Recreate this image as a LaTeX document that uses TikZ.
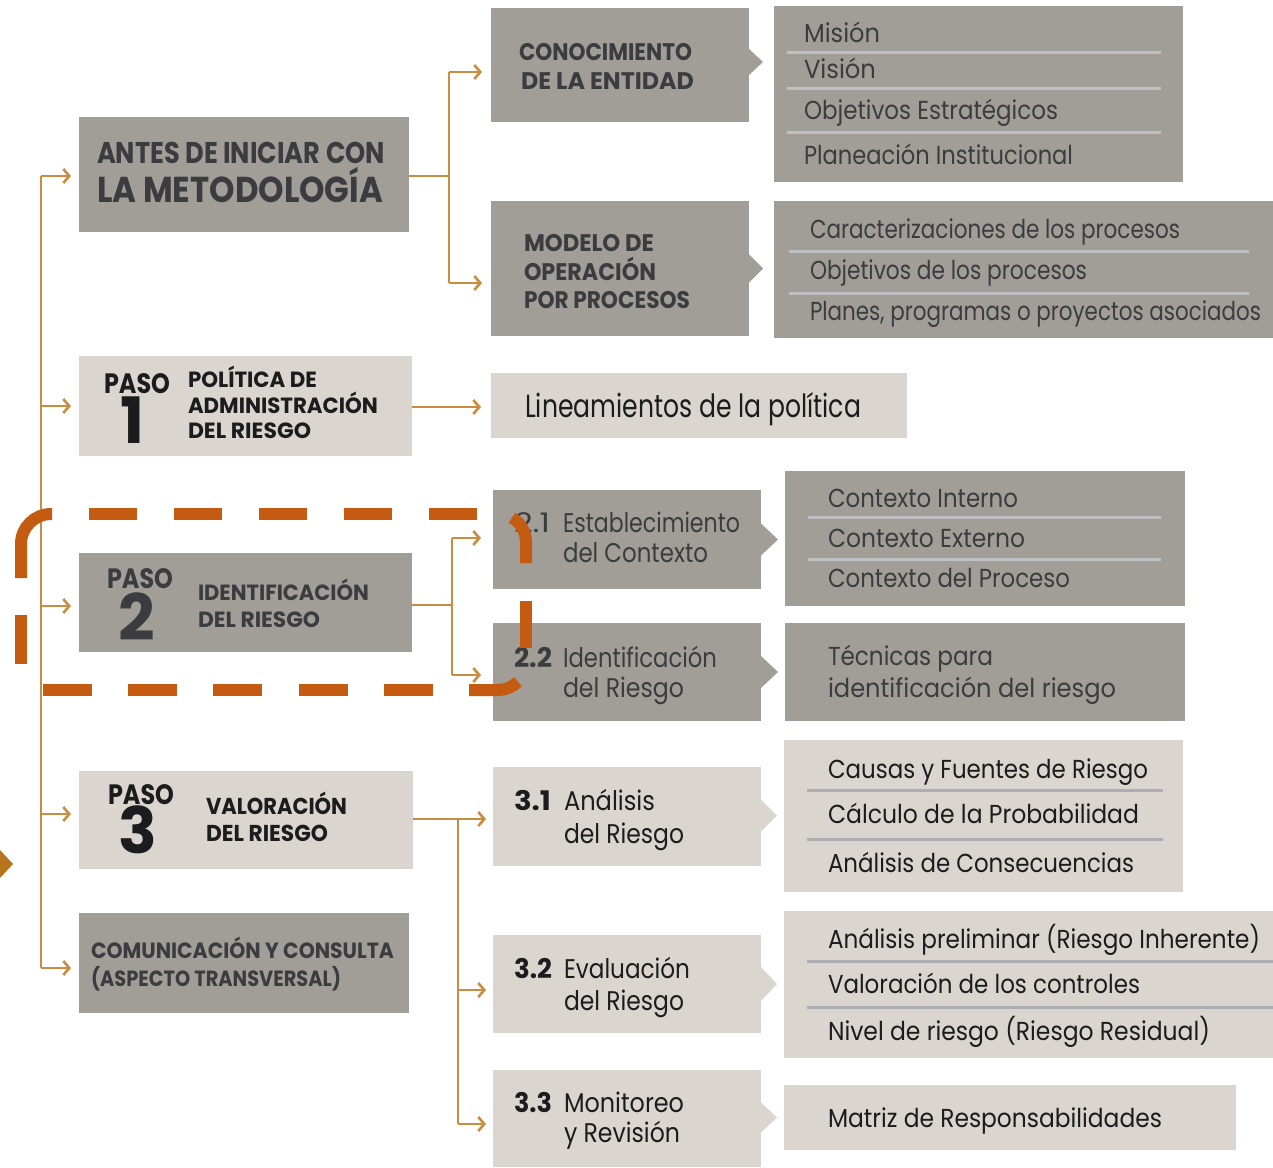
\documentclass[tikz,border=0pt]{standalone}
\usepackage{fontspec}
\usepackage{graphicx}
\setmainfont{Poppins}
\usetikzlibrary{arrows.meta,calc}
\definecolor{dkbox}{RGB}{161,157,151}
\definecolor{ltbox}{RGB}{218,214,207}
\definecolor{conncol}{RGB}{201,140,64}
\definecolor{dashcol}{RGB}{197,90,17}
\definecolor{sepdk}{RGB}{192,192,196}
\definecolor{seplt}{RGB}{172,174,180}
\definecolor{txtdk}{RGB}{60,60,64}
\definecolor{txtbk}{RGB}{28,28,30}
\definecolor{tricol}{RGB}{184,116,28}
\newcommand\fitw[2]{\resizebox{#1pt}{\height}{#2}}
\begin{document}
\begin{tikzpicture}[x=1pt,y=-1pt,
  dk/.style={fill=dkbox,draw=none,inner sep=0pt,outer sep=0pt,anchor=north west},
  lt/.style={fill=ltbox,draw=none,inner sep=0pt,outer sep=0pt,anchor=north west},
  cline/.style={draw=conncol,line width=2.6pt},
  arr/.style={draw=conncol,line width=2.6pt,-{Straight Barb[length=6pt,width=14pt]}},
  sepd/.style={draw=sepdk,line width=3pt},
  sepl/.style={draw=seplt,line width=3pt},
  dseg/.style={draw=dashcol,line width=12pt},
  tx/.style={anchor=base west,inner sep=0pt,outer sep=0pt},
  head/.style={tx,text=txtdk,font=\bfseries\fontsize{24}{28}\selectfont},
  headb/.style={tx,text=txtbk,font=\bfseries\fontsize{23}{27}\selectfont},
  paso/.style={tx,font=\bfseries\fontsize{28}{32}\selectfont},
  digit/.style={anchor=base,inner sep=0pt,outer sep=0pt,font=\bfseries\fontsize{64}{70}\selectfont},
  lstd/.style={tx,text=txtdk,font=\fontsize{26}{30}\selectfont},
  lstl/.style={tx,text=txtbk,font=\fontsize{26}{30}\selectfont},
  stepd/.style={tx,text=txtdk,font=\fontsize{27}{31}\selectfont},
  stepl/.style={tx,text=txtbk,font=\fontsize{27}{31}\selectfont},
]
\useasboundingbox (0,0) rectangle (1273,1167);

% ---------- boxes ----------
\node[dk,minimum width=330pt,minimum height=115pt] (antes) at (79,117) {};
\node[dk,minimum width=258pt,minimum height=114pt] (cono) at (491,8) {};
\node[dk,minimum width=409pt,minimum height=176pt] (mision) at (774,6) {};
\node[dk,minimum width=258pt,minimum height=135pt] (modelo) at (491,201) {};
\node[dk,minimum width=499pt,minimum height=137pt] (caract) at (774,201) {};
\node[lt,minimum width=333pt,minimum height=100pt] (paso1) at (79,356) {};
\node[lt,minimum width=416pt,minimum height=65pt] (lin) at (491,373) {};
\node[dk,minimum width=333pt,minimum height=99pt] (paso2) at (79,553) {};
\node[dk,minimum width=268pt,minimum height=99pt] (b21) at (493,490) {};
\node[dk,minimum width=400pt,minimum height=135pt] (ctx) at (785,471) {};
\node[dk,minimum width=268pt,minimum height=98pt] (b22) at (493,623) {};
\node[dk,minimum width=400pt,minimum height=98pt] (tec) at (785,623) {};
\node[lt,minimum width=334pt,minimum height=98pt] (paso3) at (79,771) {};
\node[lt,minimum width=268pt,minimum height=99pt] (b31) at (493,767) {};
\node[lt,minimum width=399pt,minimum height=152pt] (causas) at (784,740) {};
\node[dk,minimum width=330pt,minimum height=100pt] (comun) at (79,913) {};
\node[lt,minimum width=268pt,minimum height=98pt] (b32) at (493,935) {};
\node[lt,minimum width=489pt,minimum height=147pt] (prelim) at (784,911) {};
\node[lt,minimum width=268pt,minimum height=97pt] (b33) at (493,1070) {};
\node[lt,minimum width=452pt,minimum height=65pt] (matriz) at (784,1085) {};

% wedges on the right side of the step boxes
\fill[dkbox] ($(cono.east)+(0,-16)$) -- ++(14,13) -- ++(-14,13) -- cycle;
\fill[dkbox] ($(modelo.east)+(0,-14)$) -- ++(14,14) -- ++(-14,14) -- cycle;
\fill[dkbox] ($(b21.east)+(0,-16)$) -- ++(17,16) -- ++(-17,16) -- cycle;
\fill[dkbox] ($(b22.east)+(0,-16)$) -- ++(17,16) -- ++(-17,16) -- cycle;
\fill[ltbox] ($(b31.east)+(0,-17)$) -- ++(16,16) -- ++(-16,16) -- cycle;
\fill[ltbox] ($(b32.east)+(0,-17)$) -- ++(16,17) -- ++(-16,17) -- cycle;
\fill[ltbox] ($(b33.east)+(0,-16)$) -- ++(16,15) -- ++(-16,15) -- cycle;

% separators
\draw[sepd] (787,52) -- (1161,52);
\draw[sepd] (787,88) -- (1161,88);
\draw[sepd] (787,132) -- (1161,132);
\draw[sepd] (789,251) -- (1249,251);
\draw[sepd] (789,293) -- (1249,293);
\draw[sepd] (808,517) -- (1161,517);
\draw[sepd] (808,559) -- (1161,559);
\draw[sepl] (807,790) -- (1163,790);
\draw[sepl] (807,839) -- (1163,839);
\draw[sepl] (807,961) -- (1273,961);
\draw[sepl] (807,1007) -- (1273,1007);

% ---------- texts ----------
\node[head,font=\bfseries\fontsize{30}{34}\selectfont] (t1) at (97,163) {\fitw{288}{ANTES DE INICIAR CON}};
\node[head,font=\bfseries\fontsize{36}{40}\selectfont] (t2) at (97,202) {\fitw{286}{LA METODOLOGÍA}};
\node[head] (t3) at (519,60) {\fitw{173}{CONOCIMIENTO}};
\node[head] (t4) at (521,89) {\fitw{173}{DE LA ENTIDAD}};
\node[head] (t5) at (524,251) {\fitw{130}{MODELO DE}};
\node[head] (t6) at (524,280) {\fitw{132}{OPERACIÓN}};
\node[head] (t7) at (524,308) {\fitw{166}{POR PROCESOS}};
\node[lstd] (t8) at (804,42) {\fitw{76}{Misión}};
\node[lstd] (t9) at (804,78) {\fitw{72}{Visión}};
\node[lstd] (t10) at (804,119) {\fitw{254}{Objetivos Estratégicos}};
\node[lstd] (t11) at (804,164) {\fitw{269}{Planeación Institucional}};
\node[lstd] (t12) at (810,238) {\fitw{370}{Caracterizaciones de los procesos}};
\node[lstd] (t13) at (810,279) {\fitw{277}{Objetivos de los procesos}};
\node[lstd] (t14) at (810,320) {\fitw{451}{Planes, programas o proyectos asociados}};

\node[paso,text=txtbk] (t15) at (104,393) {\fitw{66}{PASO}};
\node[digit,text=txtbk] (t16) at (133,443) {1};
\node[headb,font=\bfseries\fontsize{22}{26}\selectfont] (t17) at (188,387) {\fitw{129}{POLÍTICA DE}};
\node[headb,font=\bfseries\fontsize{22}{26}\selectfont] (t18) at (188,413) {\fitw{190}{ADMINISTRACIÓN}};
\node[headb,font=\bfseries\fontsize{22}{26}\selectfont] (t19) at (188,438) {\fitw{123}{DEL RIESGO}};
\node[tx,text=txtbk,font=\fontsize{32}{36}\selectfont] (t20) at (525,417) {\fitw{336}{Lineamientos de la política}};

\node[paso,text=txtdk] (t21) at (107,588) {\fitw{66}{PASO}};
\node[digit,text=txtdk] (t22) at (137,640) {2};
\node[head,font=\bfseries\fontsize{22}{26}\selectfont] (t23) at (198,600) {\fitw{171}{IDENTIFICACIÓN}};
\node[head,font=\bfseries\fontsize{22}{26}\selectfont] (t24) at (198,627) {\fitw{122}{DEL RIESGO}};
\node[stepd] (t25) at (514,532) {\fitw{36}{2.1}};
\node[stepd] (t26) at (563,532) {\fitw{177}{Establecimiento}};
\node[stepd] (t27) at (563,562) {\fitw{145}{del Contexto}};
\node[stepd,font=\bfseries\fontsize{27}{31}\selectfont] (t28) at (514,667) {\fitw{38}{2.2}};
\node[stepd] (t29) at (563,667) {\fitw{154}{Identificación}};
\node[stepd] (t30) at (563,697) {\fitw{121}{del Riesgo}};
\node[lstd] (t31) at (828,507) {\fitw{190}{Contexto Interno}};
\node[lstd] (t32) at (828,547) {\fitw{197}{Contexto Externo}};
\node[lstd] (t33) at (828,587) {\fitw{242}{Contexto del Proceso}};
\node[lstd] (t34) at (828,665) {\fitw{165}{Técnicas para}};
\node[lstd] (t35) at (828,697) {\fitw{288}{identificación del riesgo}};

\node[paso,text=txtbk] (t36) at (108,804) {\fitw{66}{PASO}};
\node[digit,text=txtbk] (t37) at (138,853) {3};
\node[headb,font=\bfseries\fontsize{23}{27}\selectfont] (t38) at (206,814) {\fitw{141}{VALORACIÓN}};
\node[headb,font=\bfseries\fontsize{23}{27}\selectfont] (t39) at (206,841) {\fitw{122}{DEL RIESGO}};
\node[stepl,font=\bfseries\fontsize{27}{31}\selectfont] (t40) at (514,810) {\fitw{37}{3.1}};
\node[stepl] (t41) at (564,810) {\fitw{91}{Análisis}};
\node[stepl] (t42) at (564,843) {\fitw{120}{del Riesgo}};
\node[stepl,font=\bfseries\fontsize{27}{31}\selectfont] (t43) at (514,978) {\fitw{38}{3.2}};
\node[stepl] (t44) at (564,978) {\fitw{126}{Evaluación}};
\node[stepl] (t45) at (564,1010) {\fitw{120}{del Riesgo}};
\node[stepl,font=\bfseries\fontsize{27}{31}\selectfont] (t46) at (514,1112) {\fitw{38}{3.3}};
\node[stepl] (t47) at (564,1112) {\fitw{120}{Monitoreo}};
\node[stepl] (t48) at (564,1142) {\fitw{116}{y Revisión}};
\node[lstl] (t49) at (828,778) {\fitw{320}{Causas y Fuentes de Riesgo}};
\node[lstl] (t50) at (828,823) {\fitw{311}{Cálculo de la Probabilidad}};
\node[lstl] (t51) at (828,872) {\fitw{306}{Análisis de Consecuencias}};
\node[lstl] (t52) at (828,948) {\fitw{432}{Análisis preliminar (Riesgo Inherente)}};
\node[lstl] (t53) at (828,993) {\fitw{312}{Valoración de los controles}};
\node[lstl] (t54) at (828,1040) {\fitw{382}{Nivel de riesgo (Riesgo Residual)}};
\node[lstl] (t55) at (828,1127) {\fitw{334}{Matriz de Responsabilidades}};

\node[head,font=\bfseries\fontsize{22}{26}\selectfont] (t56) at (91,958) {\fitw{303}{COMUNICACIÓN Y CONSULTA}};
\node[head,font=\bfseries\fontsize{22}{26}\selectfont] (t57) at (91,986) {\fitw{250}{(ASPECTO TRANSVERSAL)}};

% ---------- connectors ----------
\coordinate (s0) at (41,176);
\coordinate (s1) at (41,406);
\coordinate (s2) at (41,606);
\coordinate (s3) at (41,814);
\coordinate (s4) at (41,968);
\draw[cline] (s0) -- (s4);
\draw[arr] (s0) -- ($(s0 -| antes.west)+(-8,0)$);
\draw[arr] (s1) -- ($(s1 -| paso1.west)+(-8,0)$);
\draw[arr] (s2) -- ($(s2 -| paso2.west)+(-8,0)$);
\draw[arr] (s3) -- ($(s3 -| paso3.west)+(-8,0)$);
\draw[arr] (s4) -- ($(s4 -| comun.west)+(-8,0)$);

\coordinate (ja) at (449,176);
\coordinate (jat) at (449,72);
\coordinate (jab) at (449,283);
\draw[cline] (antes.east |- ja) -- (ja);
\draw[cline] (jat) -- (jab);
\draw[arr] (jat) -- ($(jat -| cono.west)+(-9,0)$);
\draw[arr] (jab) -- ($(jab -| modelo.west)+(-9,0)$);

\draw[arr] (paso1.east |- 0,407) -- ($(lin.west |- 0,407)+(-10,0)$);

\coordinate (jb) at (452,605);
\coordinate (jbt) at (452,538);
\coordinate (jbb) at (452,675);
\draw[cline] (paso2.east |- jb) -- (jb);
\draw[cline] (jbt) -- (jbb);
\draw[arr] (jbt) -- ($(jbt -| b21.west)+(-12,0)$);
\draw[arr] (jbb) -- ($(jbb -| b22.west)+(-12,0)$);

\coordinate (jc) at (458,819);
\coordinate (jcm) at (458,990);
\coordinate (jcb) at (458,1124);
\draw[cline] (paso3.east |- jc) -- (jc);
\draw[cline] (jc) -- (jcb);
\draw[arr] (jc) -- ($(jc -| b31.west)+(-7,0)$);
\draw[arr] (jcm) -- ($(jcm -| b32.west)+(-7,0)$);
\draw[arr] (jcb) -- ($(jcb -| b33.west)+(-7,0)$);

% small triangle at the left edge
\fill[tricol] (0,850) -- (13,864) -- (0,878) -- cycle;

% ---------- dashed highlight around step 2 ----------
\draw[dseg] (21,578) -- (21,544) arc[start angle=180,end angle=270,radius=30] -- (52,514);
\draw[dseg] (21,615) -- (21,664);
\foreach \a/\b in {89/137,174/222,259/307,344/392,429/477}
  \draw[dseg] (\a,514) -- (\b,514);
\draw[dseg] (526,563) -- (526,542) arc[start angle=0,end angle=-60,radius=28];
\draw[dseg] (526,601) -- (526,648);
\draw[dseg] (469,690) -- (498,690) arc[start angle=90,end angle=45,radius=28];
\foreach \a/\b in {43/92,128/177,213/262,299/348,384/433}
  \draw[dseg] (\a,690) -- (\b,690);
\end{tikzpicture}
\end{document}
